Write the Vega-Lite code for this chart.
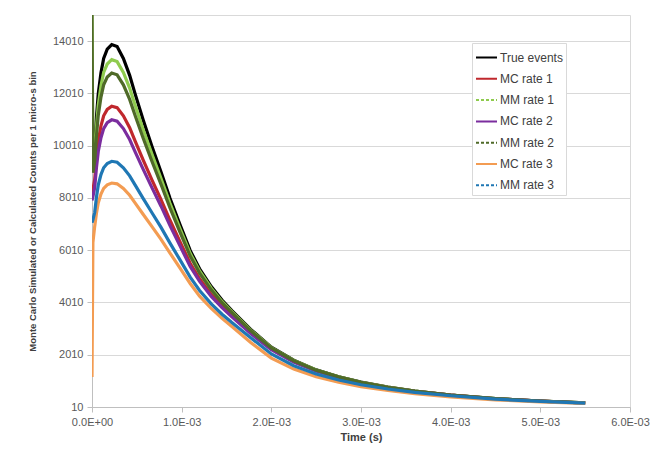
{
  "$schema": "https://vega.github.io/schema/vega-lite/v6.json",
  "width": 538,
  "height": 392,
  "autosize": {"type": "none"},
  "padding": {"left": 92, "top": 15, "right": 31, "bottom": 57},
  "background": "white",
  "config": {"view": {"stroke": "#d9d9d9"}, "font": "Liberation Sans"},
  "data": {"values": [
    {"t": 0, "True events": 9300, "MC rate 1": 8177, "MM rate 1": 15010, "MC rate 2": 7912, "MM rate 2": 15010, "MC rate 3": 1160, "MM rate 3": 7056},
    {"t": 0.00001, "True events": 9500, "MC rate 1": 8332, "MM rate 1": 9225, "MC rate 2": 8056, "MM rate 2": 8976, "MC rate 3": 6300, "MM rate 3": 7170},
    {"t": 0.00003, "True events": 10000, "MC rate 1": 8714, "MM rate 1": 9696, "MC rate 2": 8413, "MM rate 2": 9422, "MC rate 3": 6920, "MM rate 3": 7452},
    {"t": 0.00005, "True events": 11100, "MC rate 1": 9537, "MM rate 1": 10726, "MC rate 2": 9178, "MM rate 2": 10392, "MC rate 3": 7430, "MM rate 3": 8046},
    {"t": 0.00007, "True events": 12000, "MC rate 1": 10194, "MM rate 1": 11564, "MC rate 2": 9785, "MM rate 2": 11177, "MC rate 3": 7823, "MM rate 3": 8508},
    {"t": 0.0001, "True events": 12800, "MC rate 1": 10766, "MM rate 1": 12305, "MC rate 2": 10311, "MM rate 2": 11867, "MC rate 3": 8155, "MM rate 3": 8903},
    {"t": 0.00013, "True events": 13350, "MC rate 1": 11153, "MM rate 1": 12813, "MC rate 2": 10665, "MM rate 2": 12339, "MC rate 3": 8375, "MM rate 3": 9165},
    {"t": 0.00017, "True events": 13700, "MC rate 1": 11396, "MM rate 1": 13135, "MC rate 2": 10887, "MM rate 2": 12637, "MC rate 3": 8511, "MM rate 3": 9329},
    {"t": 0.00022, "True events": 13880, "MC rate 1": 11520, "MM rate 1": 13300, "MC rate 2": 11000, "MM rate 2": 12790, "MC rate 3": 8580, "MM rate 3": 9412},
    {"t": 0.00028, "True events": 13800, "MC rate 1": 11465, "MM rate 1": 13227, "MC rate 2": 10950, "MM rate 2": 12722, "MC rate 3": 8550, "MM rate 3": 9375},
    {"t": 0.00035, "True events": 13350, "MC rate 1": 11153, "MM rate 1": 12813, "MC rate 2": 10665, "MM rate 2": 12339, "MC rate 3": 8375, "MM rate 3": 9165},
    {"t": 0.00042, "True events": 12700, "MC rate 1": 10695, "MM rate 1": 12213, "MC rate 2": 10246, "MM rate 2": 11781, "MC rate 3": 8114, "MM rate 3": 8854},
    {"t": 0.00048, "True events": 12000, "MC rate 1": 10194, "MM rate 1": 11564, "MC rate 2": 9785, "MM rate 2": 11177, "MC rate 3": 7823, "MM rate 3": 8508},
    {"t": 0.00057, "True events": 11000, "MC rate 1": 9463, "MM rate 1": 10633, "MC rate 2": 9110, "MM rate 2": 10304, "MC rate 3": 7385, "MM rate 3": 7993},
    {"t": 0.000667, "True events": 10000, "MC rate 1": 8714, "MM rate 1": 9696, "MC rate 2": 8413, "MM rate 2": 9422, "MC rate 3": 6920, "MM rate 3": 7452},
    {"t": 0.00077, "True events": 9000, "MC rate 1": 7945, "MM rate 1": 8753, "MC rate 2": 7694, "MM rate 2": 8529, "MC rate 3": 6426, "MM rate 3": 6882},
    {"t": 0.00087, "True events": 8000, "MC rate 1": 7155, "MM rate 1": 7804, "MC rate 2": 6951, "MM rate 2": 7625, "MC rate 3": 5900, "MM rate 3": 6281},
    {"t": 0.00098, "True events": 7000, "MC rate 1": 6345, "MM rate 1": 6850, "MC rate 2": 6184, "MM rate 2": 6712, "MC rate 3": 5337, "MM rate 3": 5648},
    {"t": 0.001095, "True events": 6000, "MC rate 1": 5512, "MM rate 1": 5889, "MC rate 2": 5390, "MM rate 2": 5787, "MC rate 3": 4736, "MM rate 3": 4978},
    {"t": 0.0012, "True events": 5300, "MC rate 1": 4915, "MM rate 1": 5215, "MC rate 2": 4815, "MM rate 2": 5135, "MC rate 3": 4250, "MM rate 3": 4470},
    {"t": 0.00133, "True events": 4620, "MC rate 1": 4320, "MM rate 1": 4555, "MC rate 2": 4240, "MM rate 2": 4495, "MC rate 3": 3780, "MM rate 3": 3960},
    {"t": 0.00145, "True events": 4100, "MC rate 1": 3870, "MM rate 1": 4050, "MC rate 2": 3810, "MM rate 2": 4000, "MC rate 3": 3400, "MM rate 3": 3560},
    {"t": 0.00156, "True events": 3700, "MC rate 1": 3510, "MM rate 1": 3660, "MC rate 2": 3460, "MM rate 2": 3620, "MC rate 3": 3090, "MM rate 3": 3240},
    {"t": 0.00177, "True events": 2980, "MC rate 1": 2860, "MM rate 1": 2950, "MC rate 2": 2820, "MM rate 2": 2925, "MC rate 3": 2480, "MM rate 3": 2660},
    {"t": 0.002, "True events": 2300, "MC rate 1": 2230, "MM rate 1": 2285, "MC rate 2": 2200, "MM rate 2": 2270, "MC rate 3": 1880, "MM rate 3": 2040},
    {"t": 0.00225, "True events": 1800, "MC rate 1": 1750, "MM rate 1": 1790, "MC rate 2": 1730, "MM rate 2": 1780, "MC rate 3": 1460, "MM rate 3": 1590},
    {"t": 0.0025, "True events": 1430, "MC rate 1": 1400, "MM rate 1": 1425, "MC rate 2": 1390, "MM rate 2": 1420, "MC rate 3": 1170, "MM rate 3": 1275},
    {"t": 0.00275, "True events": 1170, "MC rate 1": 1150, "MM rate 1": 1166, "MC rate 2": 1140, "MM rate 2": 1162, "MC rate 3": 955, "MM rate 3": 1045},
    {"t": 0.003, "True events": 960, "MC rate 1": 940, "MM rate 1": 957, "MC rate 2": 935, "MM rate 2": 954, "MC rate 3": 790, "MM rate 3": 860},
    {"t": 0.0033, "True events": 770, "MC rate 1": 760, "MM rate 1": 768, "MC rate 2": 755, "MM rate 2": 766, "MC rate 3": 640, "MM rate 3": 700},
    {"t": 0.0036, "True events": 620, "MC rate 1": 610, "MM rate 1": 619, "MC rate 2": 607, "MM rate 2": 618, "MC rate 3": 520, "MM rate 3": 570},
    {"t": 0.004, "True events": 470, "MC rate 1": 465, "MM rate 1": 469, "MC rate 2": 463, "MM rate 2": 469, "MC rate 3": 400, "MM rate 3": 440},
    {"t": 0.0045, "True events": 330, "MC rate 1": 325, "MM rate 1": 330, "MC rate 2": 324, "MM rate 2": 329, "MC rate 3": 285, "MM rate 3": 310},
    {"t": 0.005, "True events": 235, "MC rate 1": 233, "MM rate 1": 235, "MC rate 2": 232, "MM rate 2": 235, "MC rate 3": 205, "MM rate 3": 222},
    {"t": 0.0055, "True events": 165, "MC rate 1": 164, "MM rate 1": 165, "MC rate 2": 163, "MM rate 2": 165, "MC rate 3": 145, "MM rate 3": 158}
  ]},
  "transform": [
    {"fold": ["True events", "MC rate 1", "MM rate 1", "MC rate 2", "MM rate 2", "MC rate 3", "MM rate 3"], "as": ["series", "count"]}
  ],
  "mark": {"type": "line", "strokeWidth": 3.2, "clip": true},
  "encoding": {
    "x": {
      "field": "t", "type": "quantitative",
      "scale": {"domain": [0, 0.006], "nice": false, "zero": false},
      "axis": {
        "title": "Time (s)",
        "values": [0, 0.001, 0.002, 0.003, 0.004, 0.005, 0.006],
        "labelExpr": "datum.value == 0 ? '0.0E+00' : format(datum.value * 1000, '.1f') + 'E-03'",
        "labelFlush": false,
        "grid": false,
        "domainColor": "#bfbfbf", "tickColor": "#bfbfbf", "tickSize": 5,
        "labelColor": "#595959", "labelFontSize": 11, "labelPadding": 4,
        "titleFontSize": 11, "titleFontWeight": "bold", "titleColor": "#404040", "titlePadding": 4
      }
    },
    "y": {
      "field": "count", "type": "quantitative",
      "scale": {"domain": [10, 15010], "nice": false, "zero": false},
      "axis": {
        "title": "Monte Carlo Simulated or Calculated Counts per 1 micro-s bin",
        "values": [10, 2010, 4010, 6010, 8010, 10010, 12010, 14010],
        "format": "d",
        "labelFlush": false,
        "grid": true, "gridColor": "#d9d9d9",
        "domainColor": "#bfbfbf", "tickColor": "#bfbfbf", "tickSize": 5,
        "labelColor": "#595959", "labelFontSize": 11, "labelPadding": 4,
        "titleFontSize": 9.5, "titleFontWeight": "bold", "titleColor": "#404040", "titlePadding": 15
      }
    },
    "color": {
      "field": "series", "type": "nominal",
      "scale": {
        "domain": ["True events", "MC rate 1", "MM rate 1", "MC rate 2", "MM rate 2", "MC rate 3", "MM rate 3"],
        "range": ["#000000", "#C0282D", "#8FCB4E", "#7B2D9E", "#4F6A28", "#F39C52", "#1F77B4"]
      },
      "legend": {
        "title": null,
        "orient": "none", "legendX": 380, "legendY": 28,
        "symbolType": "stroke", "symbolSize": 441, "symbolStrokeWidth": 2,
        "labelFontSize": 12, "labelColor": "#404040", "labelOffset": 2,
        "padding": 3, "rowPadding": 3.3,
        "strokeColor": "#d9d9d9", "fillColor": "white",
        "encode": {
          "symbols": {"update": {"strokeDash": {"signal": "indexof(['MM rate 1','MM rate 2','MM rate 3'], datum.value) >= 0 ? [3, 2] : [1, 0]"}}}
        }
      }
    }
  }
}
